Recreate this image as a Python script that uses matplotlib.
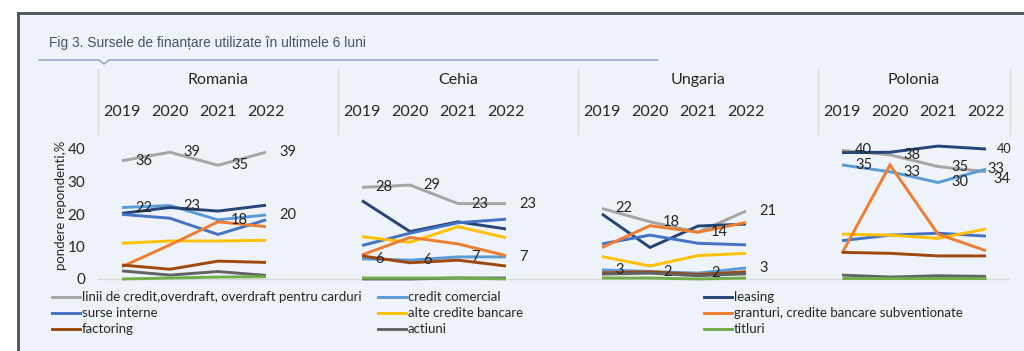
import numpy as np
from matplotlib import pyplot as plt
from matplotlib.lines import Line2D
from matplotlib.patches import Rectangle
import matplotlib.transforms as mtransforms

plt.rcParams['font.family'] = ['Lato', 'DejaVu Sans']

W, H = 1024, 351

COUNTRIES = ['Romania', 'Cehia', 'Ungaria', 'Polonia']
YEARS = ['2019', '2020', '2021', '2022']

# cate 4 valori (2019-2022) pentru fiecare tara: Romania, Cehia, Ungaria, Polonia
linii_credit = [36.4, 39.0, 35.0, 39.0, 28.2, 28.9, 23.2, 23.2,
                21.7, 17.6, 14.4, 20.9, 39.6, 38.2, 34.6, 33.0]
credit_comercial = [22.0, 22.6, 18.2, 19.7, 6.2, 5.8, 6.8, 6.8,
                    2.8, 2.3, 1.8, 3.4, 35.1, 33.0, 29.7, 33.8]
leasing = [20.2, 22.0, 20.9, 22.7, 24.1, 14.6, 17.6, 15.4,
           20.0, 9.7, 16.3, 16.9, 38.9, 39.0, 40.9, 40.0]
surse_interne = [19.9, 18.7, 13.7, 18.2, 10.3, 14.1, 17.3, 18.4,
                 10.8, 13.5, 11.0, 10.5, 11.8, 13.5, 14.1, 13.2]
alte_credite = [11.0, 11.7, 11.7, 11.9, 13.0, 11.3, 16.1, 12.7,
                6.9, 4.0, 7.2, 7.9, 13.8, 13.5, 12.5, 15.4]
granturi = [3.8, 10.5, 17.6, 16.1, 7.4, 12.8, 10.8, 7.2,
            9.7, 16.4, 14.4, 17.4, 7.9, 35.1, 13.8, 8.7]
factoring = [4.3, 3.0, 5.5, 5.1, 7.1, 5.0, 5.8, 4.0,
             1.9, 2.2, 1.4, 2.2, 8.2, 7.9, 7.1, 7.1]
actiuni = [2.5, 1.2, 2.3, 1.1, 0.0, 0.0, 0.3, 0.3,
           1.5, 1.8, 1.0, 1.6, 1.2, 0.6, 1.0, 0.8]
titluri = [0.0, 0.3, 0.6, 0.7, 0.3, 0.3, 0.3, 0.0,
           0.3, 0.3, 0.0, 0.3, 0.3, 0.3, 0.3, 0.3]

SERIES = [
    ('linii de credit,overdraft, overdraft pentru carduri', linii_credit, '#A5A5A5'),
    ('credit comercial', credit_comercial, '#5B9BD5'),
    ('leasing', leasing, '#264478'),
    ('surse interne', surse_interne, '#4472C4'),
    ('alte credite bancare', alte_credite, '#FFC000'),
    ('granturi, credite bancare subventionate', granturi, '#ED7D31'),
    ('factoring', factoring, '#9E480E'),
    ('actiuni', actiuni, '#636363'),
    ('titluri', titluri, '#70AD47'),
]

TXT = '#262626'
BG = '#EEF2F9'


def fx(px):
    return px / W


def fy(py):
    return 1 - py / H


fig = plt.figure(figsize=(W / 100, H / 100), dpi=100)
fig.patch.set_facecolor('white')

# fundal + chenar
fig.patches.append(Rectangle((fx(18), 0), 1 - fx(18), fy(13), transform=fig.transFigure,
                             facecolor=BG, edgecolor='none', zorder=-5))
fig.lines.append(Line2D([fx(18), 1], [fy(13), fy(13)], transform=fig.transFigure,
                        color='#48525F', lw=2.0, zorder=-4))
fig.lines.append(Line2D([fx(18), fx(18)], [fy(13), 0], transform=fig.transFigure,
                        color='#48525F', lw=2.0, zorder=-4))

# titlu
fig.text(fx(49), fy(43), 'Fig 3. Sursele de finanțare utilizate în ultimele 6 luni',
         family=['Liberation Sans', 'DejaVu Sans'], fontsize=9.9, color='#44546A',
         ha='left', va='center')
ux = [39, 99, 104, 109, 658]
uy = [60, 60, 64, 60, 60]
fig.lines.append(Line2D([fx(v) for v in ux], [fy(v) for v in uy], transform=fig.transFigure,
                        color='#8EA0B8', lw=1.0))

# axa
y_lo, y_hi = -1, 42
x_lo, x_hi = -0.5, 18.5
ax_l, ax_r = 98, 1010
ax_b = 279 + 3.25 * (0 - y_lo)
ax_t = 279 - 3.25 * y_hi
ax = fig.add_axes([fx(ax_l), fy(ax_b), fx(ax_r) - fx(ax_l), fy(ax_t) - fy(ax_b)])
ax.set_facecolor('none')
ax.set_xlim(x_lo, x_hi)
ax.set_ylim(y_lo, y_hi)
for s in ax.spines.values():
    s.set_visible(False)
ax.set_xticks([])
ax.set_yticks([0, 10, 20, 30, 40])
ax.tick_params(axis='y', length=0, pad=9, labelsize=11, labelcolor=TXT)
ax.axhline(0, color='#D9D9D9', lw=1, zorder=1)
fig.text(fx(61), fy(205), 'pondere repondenti,%', rotation=90, fontsize=9.5,
         color=TXT, ha='center', va='center')

xpos = np.arange(len(YEARS))
for name, vals, col in SERIES:
    for ci in range(len(COUNTRIES)):
        seg = vals[ci * 4:(ci + 1) * 4]
        ax.plot(ci * 5 + xpos, seg, color=col, lw=2.1, solid_capstyle='butt',
                solid_joinstyle='miter', clip_on=False, zorder=2)

# etichete de date (la dreapta punctului; Polonia 2022 mutate ca in original)
label_offsets = {(0, 3, 3): (1, 2), (1, 3, 3): (5, -7)}
for si in (0, 1):
    vals = SERIES[si][1]
    for ci in range(len(COUNTRIES)):
        for yi in range(len(YEARS)):
            v = vals[ci * 4 + yi]
            dx, dy = label_offsets.get((si, ci, yi), (9.5, 0))
            ax.annotate(f'{v:.0f}', (ci * 5 + yi, v), xytext=(dx, dy), textcoords='offset points',
                        fontsize=10.5, color=TXT, ha='left', va='center', zorder=5)
v = leasing[15]
ax.annotate(f'{v:.0f}', (18, v), xytext=(8, 0), textcoords='offset points',
            fontsize=9, color=TXT, ha='left', va='center', zorder=5)

# antet: tari si ani
hdr = mtransforms.blended_transform_factory(ax.transData, fig.transFigure)
for ci, c in enumerate(COUNTRIES):
    left = ci * 5 - 0.5
    right = min(ci * 5 + 4.5, x_hi)
    ax.text((left + right) / 2, fy(80), c, transform=hdr, fontsize=11.5, color=TXT,
            ha='center', va='center')
    for yi, y in enumerate(YEARS):
        ax.text(ci * 5 + yi, fy(112), y, transform=hdr, fontsize=11.5, color=TXT,
                ha='center', va='center')
for sx in [-0.5, 4.5, 9.5, 14.5, 18.5]:
    ax.add_line(Line2D([sx, sx], [fy(69), fy(134)], transform=hdr, color='#D9D9D9',
                       lw=1, clip_on=False))

# legenda (3 coloane, completata pe randuri)
rows_y = [297, 313, 329]
cols_x = [52, 378, 704]
for i, (name, vals, col) in enumerate(SERIES):
    r, c = divmod(i, 3)
    x0 = cols_x[c]
    y0 = rows_y[r]
    fig.lines.append(Line2D([fx(x0), fx(x0 + 28)], [fy(y0), fy(y0)], transform=fig.transFigure,
                            color=col, lw=2.1))
    fig.text(fx(x0 + 30), fy(y0), name, fontsize=9.5, color=TXT, ha='left', va='center')

fig.savefig('out.png', dpi=100, facecolor='white')
